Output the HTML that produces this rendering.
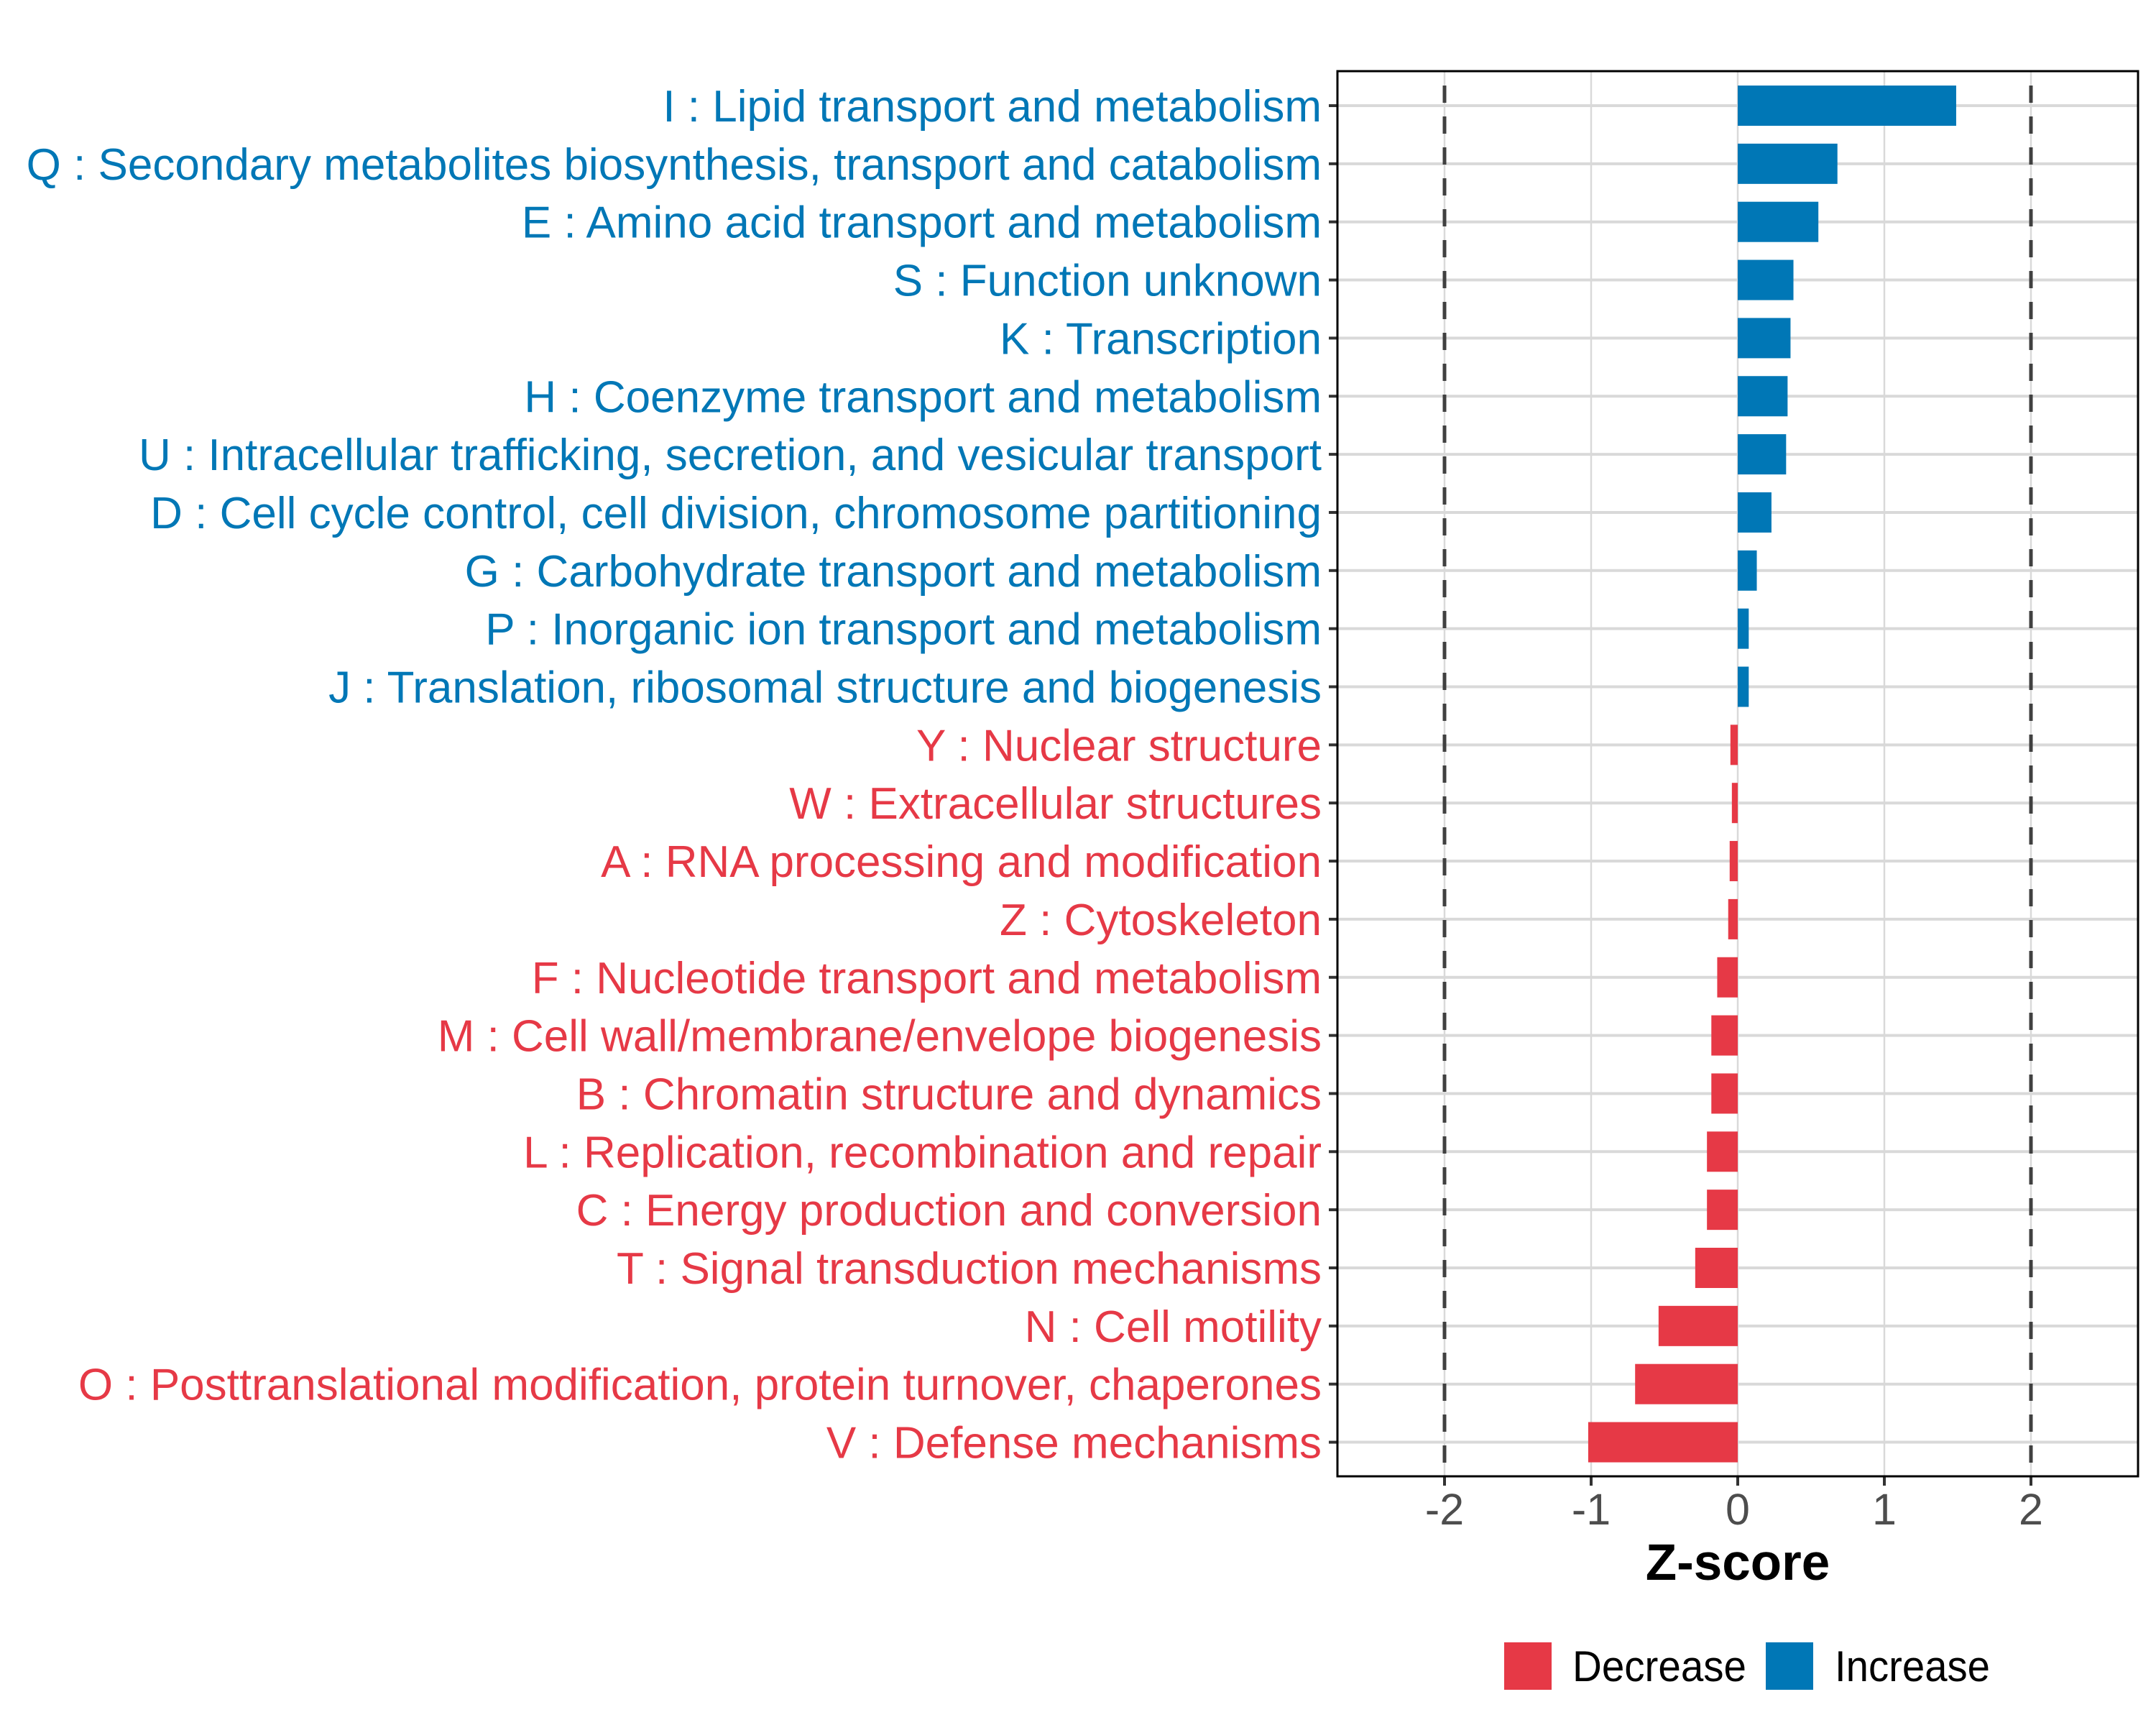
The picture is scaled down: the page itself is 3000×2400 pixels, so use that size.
<!DOCTYPE html>
<html><head><meta charset="utf-8"><style>
html,body{margin:0;padding:0;background:#fff;}
svg{display:block;font-family:"Liberation Sans",Arial,sans-serif;}
</style></head><body>
<svg id="chart" width="3000" height="2400" viewBox="0 0 3000 2400" xmlns="http://www.w3.org/2000/svg">
<rect width="3000" height="2400" fill="#fff"/>
<g id="grid"></g>
<g id="bars"></g>
<g id="ylabels"></g>
<g id="xaxis"></g>
<rect x="1861" y="99" width="1114" height="1955" fill="none" stroke="#000" stroke-width="3"/>
<text x="2418" y="2198" text-anchor="middle" font-size="71" font-weight="bold" fill="#000">Z-score</text>
<g>
<rect x="2093" y="2285" width="66" height="66" fill="#E63946"/>
<text x="2188" y="2339" font-size="60" fill="#000" textLength="242" lengthAdjust="spacingAndGlyphs">Decrease</text>
<rect x="2457" y="2285" width="66" height="66" fill="#0077B6"/>
<text x="2553" y="2339" font-size="60" fill="#000" textLength="216" lengthAdjust="spacingAndGlyphs">Increase</text>
</g>
</svg>
<script>
const categories = ["I : Lipid transport and metabolism","Q : Secondary metabolites biosynthesis, transport and catabolism","E : Amino acid transport and metabolism","S : Function unknown","K : Transcription","H : Coenzyme transport and metabolism","U : Intracellular trafficking, secretion, and vesicular transport","D : Cell cycle control, cell division, chromosome partitioning","G : Carbohydrate transport and metabolism","P : Inorganic ion transport and metabolism","J : Translation, ribosomal structure and biogenesis","Y : Nuclear structure","W : Extracellular structures","A : RNA processing and modification","Z : Cytoskeleton","F : Nucleotide transport and metabolism","M : Cell wall/membrane/envelope biogenesis","B : Chromatin structure and dynamics","L : Replication, recombination and repair","C : Energy production and conversion","T : Signal transduction mechanisms","N : Cell motility","O : Posttranslational modification, protein turnover, chaperones","V : Defense mechanisms"];
const zscores = [1.49,0.68,0.55,0.38,0.36,0.34,0.33,0.23,0.13,0.075,0.075,-0.05,-0.04,-0.055,-0.065,-0.14,-0.18,-0.18,-0.21,-0.21,-0.29,-0.54,-0.70,-1.02];
const xTicks = [-2,-1,0,1,2];
const xTickLabels = ["-2","-1","0","1","2"];
const thresholds = [-2,2];

const NS="http://www.w3.org/2000/svg";
const panelL=1861, panelR=2975, panelT=99, panelB=2054;
const x = v => 2418 + v*204;
const rowStep = 80.85;
const y = i => 147 + i*rowStep;
const barH = 56;
const BLUE="#0077B6", RED="#E63946";
function mk(tag, attrs, parent){const e=document.createElementNS(NS,tag);for(const k in attrs)e.setAttribute(k,attrs[k]);parent.appendChild(e);return e;}
const grid=document.getElementById('grid'), bars=document.getElementById('bars'), yl=document.getElementById('ylabels'), xa=document.getElementById('xaxis');
xTicks.forEach((v)=>{
  const l=mk('line',{x1:x(v),x2:x(v),y1:panelT,y2:panelB,stroke:'#d9d9d9','stroke-width':2.5},grid);
  
  
});
categories.forEach((c,i)=>{
  const l=mk('line',{x1:panelL,x2:panelR,y1:y(i),y2:y(i),stroke:'#d9d9d9','stroke-width':4},grid);
  
  
});
thresholds.forEach(v=>{
  const l=mk('line',{x1:x(v),x2:x(v),y1:panelT,y2:panelB,stroke:'#404040','stroke-width':5,'stroke-dasharray':'24 19','stroke-dashoffset':'-20'},grid);
  
  
});
categories.forEach((c,i)=>{
  const v=zscores[i];
  const col=v>=0?BLUE:RED;
  const r=mk('rect',{x:Math.min(x(0),x(v)),y:y(i)-barH/2,width:Math.abs(x(v)-x(0)),height:barH,fill:col},bars);
  
  
  const t=mk('line',{x1:panelL-12,x2:panelL,y1:y(i),y2:y(i),stroke:'#333','stroke-width':4},yl);
  
  
  const tx=mk('text',{x:1839,y:y(i)+22,'text-anchor':'end','font-size':62,fill:col},yl);
  tx.textContent=c;
  
  
});
xTicks.forEach((v,i)=>{
  const t=mk('line',{x1:x(v),x2:x(v),y1:panelB,y2:panelB+13,stroke:'#333','stroke-width':4},xa);
  
  
  const tx=mk('text',{x:x(v),y:2121,'text-anchor':'middle','font-size':61,fill:'#4d4d4d'},xa);
  tx.textContent=xTickLabels[i];
  
  
});
</script>
</body></html>
